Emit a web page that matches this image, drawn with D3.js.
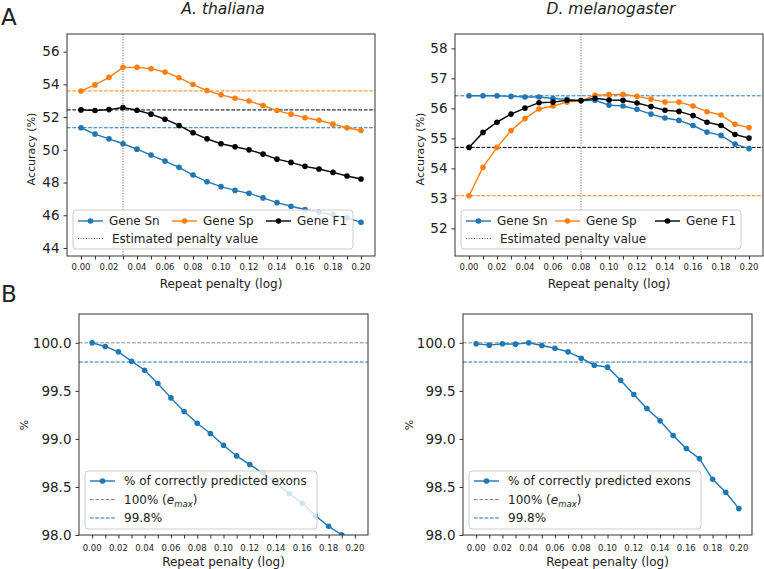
<!DOCTYPE html>
<html>
<head>
<meta charset="utf-8">
<script src="https://cdn.jsdelivr.net/npm/d3@7"></script>
<style>
  body { margin: 0; background: #fff; }
  text { font-family: "DejaVu Sans", sans-serif; fill: #222; }
</style>
</head>
<body>
<script>
// valores
const penalty = [0.00, 0.01, 0.02, 0.03, 0.04, 0.05, 0.06, 0.07, 0.08, 0.09, 0.10,
                 0.11, 0.12, 0.13, 0.14, 0.15, 0.16, 0.17, 0.18, 0.19, 0.20];
const xTickLabels = [0.00, 0.02, 0.04, 0.06, 0.08, 0.10, 0.12, 0.14, 0.16, 0.18, 0.20];

// A. thaliana
const athSn = [51.35, 50.96, 50.67, 50.37, 50.04, 49.68, 49.31, 48.93, 48.46, 48.05, 47.75,
               47.52, 47.34, 47.06, 46.77, 46.55, 46.35, 46.18, 46.04, 45.84, 45.57];
const athSp = [53.60, 53.97, 54.43, 55.04, 55.04, 54.96, 54.76, 54.41, 53.99, 53.62, 53.36,
               53.15, 52.98, 52.71, 52.40, 52.18, 51.96, 51.81, 51.57, 51.35, 51.18];
const athF1 = [52.44, 52.40, 52.46, 52.59, 52.42, 52.18, 51.87, 51.49, 51.04, 50.67, 50.37,
               50.19, 50.00, 49.74, 49.43, 49.23, 48.99, 48.83, 48.62, 48.40, 48.22];
const athBaseline = [51.35, 53.60, 52.44]; // Sn, Sp, F1
const athPenalty = 0.03;
const athTicks = [44, 46, 48, 50, 52, 54, 56];
const athExons = [100.0, 99.962, 99.906, 99.809, 99.715, 99.576, 99.427, 99.285, 99.163, 99.056, 98.934,
                  98.823, 98.733, 98.642, 98.538, 98.431, 98.330, 98.201, 98.090, 98.003, 97.90];

// D. melanogaster
const dmeSn = [56.42, 56.42, 56.42, 56.40, 56.38, 56.38, 56.33, 56.30, 56.26, 56.27, 56.11,
               56.08, 55.97, 55.81, 55.68, 55.60, 55.43, 55.21, 55.10, 54.81, 54.66];
const dmeSp = [53.09, 54.04, 54.70, 55.26, 55.66, 55.98, 56.08, 56.21, 56.26, 56.44, 56.46,
               56.47, 56.40, 56.31, 56.21, 56.21, 56.08, 55.89, 55.78, 55.47, 55.36];
const dmeF1 = [54.70, 55.20, 55.54, 55.81, 56.01, 56.19, 56.21, 56.27, 56.26, 56.34, 56.28,
               56.27, 56.18, 56.06, 55.94, 55.90, 55.76, 55.54, 55.43, 55.13, 55.01];
const dmeBaseline = [56.42, 53.09, 54.70];
const dmePenalty = 0.08;
const dmeTicks = [52, 53, 54, 55, 56, 57, 58];
const dmeExons = [99.990, 99.976, 99.990, 99.986, 100.0, 99.972, 99.944, 99.906, 99.840, 99.767, 99.747,
                  99.611, 99.462, 99.316, 99.188, 99.035, 98.899, 98.795, 98.580, 98.444, 98.274];

const exonTicks = [98.0, 98.5, 99.0, 99.5, 100.0];
const exonRefs = [100.0, 99.8]; // e_max, 99.8%

const seriesNames = ["Gene Sn", "Gene Sp", "Gene F1"];
const BLUE = "#1f77b4", ORANGE = "#ff7f0e", BLACK = "#000";
const seriesColors = [BLUE, ORANGE, BLACK];

let WIDTH = 764, HEIGHT = 569;
let svg = d3.select("body").append("svg")
            .attr("width", WIDTH)
            .attr("height", HEIGHT);

// letras de panel
svg.append("text").attr("x", 1).attr("y", 25).attr("font-size", 23).text("A");
svg.append("text").attr("x", 1).attr("y", 302).attr("font-size", 23).text("B");

function drawPanel(cfg) {
    let x = d3.scaleLinear().domain([-0.01, 0.21]).range([cfg.left, cfg.right]);
    let y = d3.scaleLinear().domain(cfg.yDomain).range([cfg.bottom, cfg.top]);
    let g = svg.append("g");

    let clipId = "clip" + cfg.id;
    svg.append("clipPath").attr("id", clipId)
       .append("rect")
       .attr("x", cfg.left).attr("y", cfg.top)
       .attr("width", cfg.right - cfg.left).attr("height", cfg.bottom - cfg.top);

    let plot = g.append("g").attr("clip-path", `url(#${clipId})`);

    // lineas de referencia horizontales
    cfg.hlines.forEach(h => {
        plot.append("line")
            .attr("x1", cfg.left).attr("x2", cfg.right)
            .attr("y1", y(h.value)).attr("y2", y(h.value))
            .attr("stroke", h.color).attr("stroke-width", 1)
            .attr("stroke-dasharray", "3.7,1.6");
    });

    // linea punteada vertical
    if (cfg.vline !== undefined) {
        plot.append("line")
            .attr("x1", x(cfg.vline)).attr("x2", x(cfg.vline))
            .attr("y1", cfg.top).attr("y2", cfg.bottom)
            .attr("stroke", "#555").attr("stroke-width", 1)
            .attr("stroke-dasharray", "1,1.65");
    }

    let line = d3.line().x(d => x(d[0])).y(d => y(d[1]));
    cfg.series.forEach(s => {
        let pts = penalty.map((p, i) => [p, s.values[i]]);
        plot.append("path")
            .attr("d", line(pts))
            .attr("fill", "none")
            .attr("stroke", s.color)
            .attr("stroke-width", 1.4);
        plot.selectAll(null)
            .data(pts)
            .enter()
            .append("circle")
            .attr("cx", d => x(d[0]))
            .attr("cy", d => y(d[1]))
            .attr("r", 2.8)
            .attr("fill", s.color);
    });

    // marco
    g.append("rect")
     .attr("x", cfg.left).attr("y", cfg.top)
     .attr("width", cfg.right - cfg.left).attr("height", cfg.bottom - cfg.top)
     .attr("fill", "none").attr("stroke", "#333").attr("stroke-width", 1);

    // eje x
    let xAxis = g.append("g").attr("transform", `translate(0,${cfg.bottom})`)
                 .call(d3.axisBottom(x).tickValues(penalty).tickSize(3.5).tickFormat(""));
    xAxis.select(".domain").remove();
    xAxis.selectAll("line").attr("stroke", "#333");
    g.selectAll(null)
     .data(xTickLabels)
     .enter()
     .append("text")
     .attr("x", d => x(d))
     .attr("y", cfg.bottom + cfg.xTickDy)
     .attr("text-anchor", "middle")
     .attr("font-size", 8.5)
     .text(d => d.toFixed(2));

    // eje y
    let yAxis = g.append("g").attr("transform", `translate(${cfg.left},0)`)
                 .call(d3.axisLeft(y).tickValues(cfg.yTicks).tickSize(3.5).tickPadding(4)
                         .tickFormat(cfg.yFormat));
    yAxis.select(".domain").remove();
    yAxis.selectAll("line").attr("stroke", "#333");
    yAxis.selectAll("text")
         .attr("font-size", 13.5)
         .attr("font-family", "DejaVu Sans, sans-serif")
         .attr("fill", "#222");

    g.append("text")
     .attr("x", (cfg.left + cfg.right) / 2)
     .attr("y", cfg.bottom + cfg.xLabelDy)
     .attr("text-anchor", "middle")
     .attr("font-size", 12)
     .text("Repeat penalty (log)");

    g.append("text")
     .attr("transform", `translate(${cfg.yLabelX},${cfg.yLabelY}) rotate(-90)`)
     .attr("text-anchor", "middle")
     .attr("dy", "0.35em")
     .attr("font-size", cfg.yLabelSize)
     .text(cfg.yLabel);

    if (cfg.title) {
        g.append("text")
         .attr("x", (cfg.left + cfg.right) / 2 + 2)
         .attr("y", 14)
         .attr("text-anchor", "middle")
         .attr("font-size", 15.5)
         .attr("font-style", "italic")
         .text(cfg.title);
    }

    // leyenda
    let lg = cfg.legend;
    g.append("rect")
     .attr("x", lg.x).attr("y", lg.y).attr("width", lg.w).attr("height", lg.h)
     .attr("rx", 3)
     .attr("fill", "#fff").attr("fill-opacity", 0.8)
     .attr("stroke", "#ccc").attr("stroke-width", 1);
    lg.items.forEach(it => {
        g.append("line")
         .attr("x1", it.hx).attr("x2", it.hx + 25)
         .attr("y1", it.y).attr("y2", it.y)
         .attr("stroke", it.color)
         .attr("stroke-width", it.dash ? 1 : 1.4)
         .attr("stroke-dasharray", it.dash || null);
        if (it.marker) {
            g.append("circle").attr("cx", it.hx + 12.5).attr("cy", it.y).attr("r", 2.8).attr("fill", it.color);
        }
        let t = g.append("text").attr("x", it.tx).attr("y", it.y).attr("dy", "0.36em").attr("font-size", 12);
        if (it.emax) {
            t.append("tspan").text("100% (");
            t.append("tspan").attr("font-style", "italic").text("e");
            t.append("tspan").attr("font-style", "italic").attr("font-size", 8.5).attr("dy", 3).text("max");
            t.append("tspan").attr("dy", -3).text(")");
        } else {
            t.text(it.label);
        }
    });
}

function accuracyLegend(x0, y0, w, cols) {
    let items = seriesNames.map((n, i) => ({
        label: n, color: seriesColors[i], marker: true,
        hx: x0 + cols[i], tx: x0 + cols[i] + 31, y: y0 + 11
    }));
    items.push({ label: "Estimated penalty value", color: "#555", dash: "1,1.65",
                 hx: x0 + 5, tx: x0 + 39, y: y0 + 28.5 });
    return { x: x0, y: y0, w: w, h: 39, items: items };
}

function exonLegend(x0, y0) {
    return { x: x0, y: y0, w: 232, h: 58, items: [
        { label: "% of correctly predicted exons", color: BLUE, marker: true, hx: x0 + 5, tx: x0 + 39, y: y0 + 10 },
        { emax: true, color: "#888", dash: "3.7,1.6", hx: x0 + 5, tx: x0 + 39, y: y0 + 28.5 },
        { label: "99.8%", color: BLUE, dash: "3.7,1.6", hx: x0 + 5, tx: x0 + 39, y: y0 + 47 }
    ] };
}

drawPanel({
    id: "ath", title: "A. thaliana",
    left: 67, right: 375, top: 34, bottom: 256,
    yDomain: [43.51, 57.08], yTicks: athTicks, yFormat: d3.format("d"),
    series: [0, 1, 2].map(i => ({ values: [athSn, athSp, athF1][i], color: seriesColors[i] })),
    hlines: athBaseline.map((v, i) => ({ value: v, color: seriesColors[i] })),
    vline: athPenalty,
    xTickDy: 14, xLabelDy: 32,
    yLabel: "Accuracy (%)", yLabelX: 31, yLabelY: 149, yLabelSize: 11,
    legend: accuracyLegend(73, 210, 280, [5, 99, 193])
});

drawPanel({
    id: "dme", title: "D. melanogaster",
    left: 455, right: 763, top: 34, bottom: 256,
    yDomain: [51.08, 58.48], yTicks: dmeTicks, yFormat: d3.format("d"),
    series: [0, 1, 2].map(i => ({ values: [dmeSn, dmeSp, dmeF1][i], color: seriesColors[i] })),
    hlines: dmeBaseline.map((v, i) => ({ value: v, color: seriesColors[i] })),
    vline: dmePenalty,
    xTickDy: 14, xLabelDy: 32,
    yLabel: "Accuracy (%)", yLabelX: 420, yLabelY: 149, yLabelSize: 11,
    legend: accuracyLegend(461, 210, 280, [5, 94, 194])
});

drawPanel({
    id: "athB",
    left: 79, right: 368, top: 314, bottom: 535,
    yDomain: [98.0, 100.3], yTicks: exonTicks, yFormat: d3.format(".1f"),
    series: [{ values: athExons, color: BLUE }],
    hlines: [{ value: exonRefs[0], color: "#888" }, { value: exonRefs[1], color: BLUE }],
    xTickDy: 16, xLabelDy: 31,
    yLabel: "%", yLabelX: 24, yLabelY: 425, yLabelSize: 11,
    legend: exonLegend(85, 471)
});

drawPanel({
    id: "dmeB",
    left: 463, right: 752, top: 314, bottom: 535,
    yDomain: [98.0, 100.3], yTicks: exonTicks, yFormat: d3.format(".1f"),
    series: [{ values: dmeExons, color: BLUE }],
    hlines: [{ value: exonRefs[0], color: "#888" }, { value: exonRefs[1], color: BLUE }],
    xTickDy: 16, xLabelDy: 31,
    yLabel: "%", yLabelX: 409, yLabelY: 425, yLabelSize: 11,
    legend: exonLegend(469, 471)
});
</script>
</body>
</html>
